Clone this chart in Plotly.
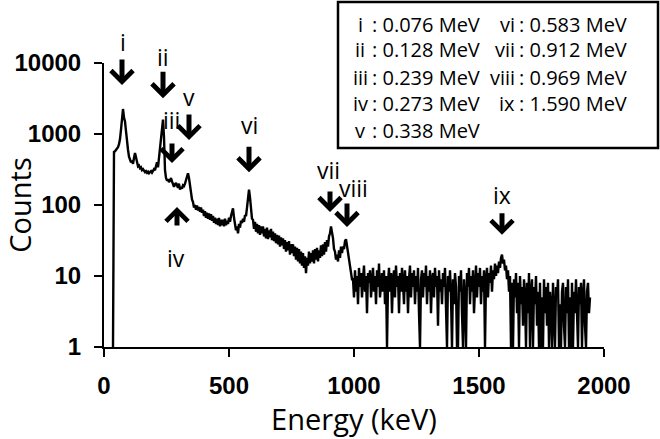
import math
import plotly.graph_objects as go

# ---------------- data ----------------
energy_start_kev = 36      # first channel energy
energy_step_kev = 4        # channel width

counts = [
    1, 560, 570, 590, 610, 650, 720, 850, 1150, 1800,
    2250, 1700, 1500, 1100, 750, 600, 480, 430, 400, 420,
    380, 460, 540, 470, 390, 350, 360, 330, 340, 310,
    320, 300, 290, 300, 285, 295, 280, 290, 300, 285,
    300, 320, 310, 360, 400, 340, 470, 620, 1000, 1450,
    1600, 900, 310, 240, 220, 230, 210, 220, 240, 215,
    200, 180, 195, 205, 190, 175, 200, 165, 180, 170,
    190, 185, 200, 230, 270, 280, 240, 180, 150, 120,
    110, 92, 100, 86, 98, 84, 94, 80, 92, 78,
    86, 70, 82, 66, 78, 64, 76, 62, 74, 60,
    70, 56, 66, 54, 64, 52, 66, 50, 62, 52,
    62, 50, 64, 52, 60, 54, 66, 58, 70, 84,
    90, 66, 52, 44, 50, 40, 54, 48, 60, 56,
    64, 58, 72, 70, 92, 120, 165, 128, 84, 64,
    62, 46, 58, 42, 54, 40, 52, 38, 50, 40,
    50, 36, 46, 34, 48, 33, 44, 35, 46, 32,
    42, 31, 40, 29, 38, 28, 37, 26, 35, 27,
    34, 24, 32, 22, 30, 23, 31, 20, 28, 21,
    28, 19, 26, 17, 25, 16, 24, 15, 22, 14,
    21, 13, 19, 11, 18, 14, 22, 15, 21, 16,
    23, 15, 24, 17, 25, 16, 23, 18, 27, 19,
    28, 20, 30, 22, 32, 26, 36, 40, 50, 42,
    34, 24, 22, 17, 20, 16, 23, 18, 26, 21,
    26, 24, 31, 33, 26, 22, 19, 14, 12, 9,
    9, 5, 12, 6, 10, 4, 13, 7, 11, 5,
    9, 14, 6, 10, 3, 11, 8, 12, 5, 9,
    13, 6, 10, 4, 12, 7, 15, 5, 9, 11,
    6, 12, 4, 10, 1, 8, 13, 6, 11, 3,
    9, 12, 5, 14, 7, 10, 3, 11, 6, 13,
    8, 4, 12, 6, 10, 3, 9, 14, 5, 11,
    7, 12, 4, 10, 6, 13, 3, 1, 9, 12,
    5, 11, 7, 14, 4, 10, 6, 12, 3, 9,
    11, 5, 13, 7, 10, 2, 12, 6, 9, 4,
    11, 7, 13, 3, 1, 10, 6, 12, 5, 1,
    9, 4, 11, 7, 1, 1, 10, 6, 12, 3,
    1, 9, 5, 1, 11, 7, 13, 4, 10, 6,
    12, 3, 9, 14, 5, 11, 7, 13, 4, 10,
    6, 12, 1, 9, 13, 5, 11, 8, 14, 6,
    12, 9, 15, 10, 14, 11, 16, 13, 18, 20,
    15, 17, 12, 14, 9, 12, 6, 10, 1, 8,
    1, 9, 5, 11, 3, 8, 1, 10, 4, 7,
    2, 9, 5, 1, 8, 3, 11, 1, 6, 9,
    1, 7, 4, 10, 2, 6, 1, 8, 1, 5,
    1, 9, 3, 7, 2, 8, 1, 6, 4, 1,
    8, 3, 1, 7, 5, 9, 1, 4, 1, 6,
    8, 2, 1, 7, 3, 9, 1, 5, 1, 8,
    1, 6, 3, 9, 2, 1, 7, 4, 8, 1,
    5, 9, 2, 1, 6, 8, 3, 5,
]
energies = [energy_start_kev + energy_step_kev * i for i in range(len(counts))]

# peak markers
peak_labels = ["i", "ii", "iii", "iv", "v", "vi", "vii", "viii", "ix"]
peak_energies_mev = ["0.076", "0.128", "0.239", "0.273", "0.338",
                     "0.583", "0.912", "0.969", "1.590"]
arrow_energy_kev = [72, 236, 272, 292, 340, 580, 904, 972, 1592]
arrow_tip_counts = [4900, 3200, 390, 94, 820, 290, 80, 49, 38]
arrow_points_up = [False, False, False, True, False, False, False, False, False]
label_energy_kev = [74, 236, 270, 286, 340, 580, 896, 996, 1592]

x_ticks = [0, 500, 1000, 1500, 2000]
y_ticks = [1, 10, 100, 1000, 10000]
y_ticktext = ["1", "10", "100", "1000", "10000"]

# ---------------- styling / layout ----------------
W, H = 660, 439
L, R, T, B = 104, 56, 63, 92
PW, PH = W - L - R, H - T - B

def px_x(p):
    return (p - L) / PW

def px_y(p):
    return (H - B - p) / PH

TXT = "Open Sans"
TICKF = dict(family="Liberation Sans, Arial", size=24, color="black", weight="bold")

fig = go.Figure()
fig.add_trace(go.Scatter(x=energies, y=counts, mode="lines",
                         line=dict(color="black", width=2.4),
                         showlegend=False, hoverinfo="skip"))

axis_common = dict(showline=True, linewidth=2, linecolor="black", ticks="outside",
                   ticklen=8, tickwidth=2, tickcolor="black", showgrid=False,
                   zeroline=False, tickfont=TICKF, ticklabelstandoff=8)

fig.update_xaxes(range=[0, 2000], tickvals=x_ticks, **axis_common,
                 title=dict(text="Energy (keV)", font=dict(family=TXT, size=29, color="black"),
                            standoff=10))
fig.update_yaxes(type="log", range=[0, 4], tickvals=y_ticks, ticktext=y_ticktext,
                 **axis_common,
                 title=dict(text="Counts", font=dict(family=TXT, size=29, color="black"),
                            standoff=0))

annotations = []
arrow_len = [27, 28, 21, 20, 27, 27, 22, 25, 23]
label_off = [43, 41, 43, -51, 43, 47, 42, 39, 40]
for i, name in enumerate(peak_labels):
    ylog = math.log10(arrow_tip_counts[i])
    up = arrow_points_up[i]
    annotations.append(dict(
        x=arrow_energy_kev[i], y=ylog, xref="x", yref="y",
        ax=0, ay=(arrow_len[i] if up else -arrow_len[i]), text="",
        showarrow=True, arrowhead=4, arrowsize=0.85, arrowwidth=5, arrowcolor="black"))
    annotations.append(dict(
        x=label_energy_kev[i], y=ylog, xref="x", yref="y", yshift=label_off[i],
        text=name, showarrow=False, font=dict(family=TXT, size=23, color="black")))

# legend box with peak energies
shapes = [dict(type="rect", xref="paper", yref="paper",
               x0=px_x(338), x1=px_x(658), y0=px_y(148), y1=px_y(2),
               line=dict(color="black", width=2.5), fillcolor="white")]
row_y = [24, 50, 77, 103, 130]
for i, name in enumerate(peak_labels):
    col = 0 if i < 5 else 1
    row = i if i < 5 else i - 5
    if col == 0:
        annotations.append(dict(x=px_x(360), y=px_y(row_y[row]), xref="paper", yref="paper",
                                text=name, showarrow=False, xanchor="center", yanchor="middle",
                                font=dict(family=TXT, size=20, color="black")))
        txt_x = 370
    else:
        annotations.append(dict(x=px_x(517), y=px_y(row_y[row]), xref="paper", yref="paper",
                                text=name, showarrow=False, xanchor="right", yanchor="middle",
                                font=dict(family=TXT, size=20, color="black")))
        txt_x = 517
    annotations.append(dict(x=px_x(txt_x), y=px_y(row_y[row]), xref="paper", yref="paper",
                            text=": " + peak_energies_mev[i] + " MeV", showarrow=False,
                            xanchor="left", yanchor="middle",
                            font=dict(family=TXT, size=20, color="black")))

fig.update_layout(width=W, height=H, margin=dict(l=L, r=R, t=T, b=B, autoexpand=False),
                  plot_bgcolor="white", paper_bgcolor="white",
                  annotations=annotations, shapes=shapes, showlegend=False)

fig.write_html("out.html", config={"displayModeBar": False},
               post_script="document.body.style.margin='0';")
